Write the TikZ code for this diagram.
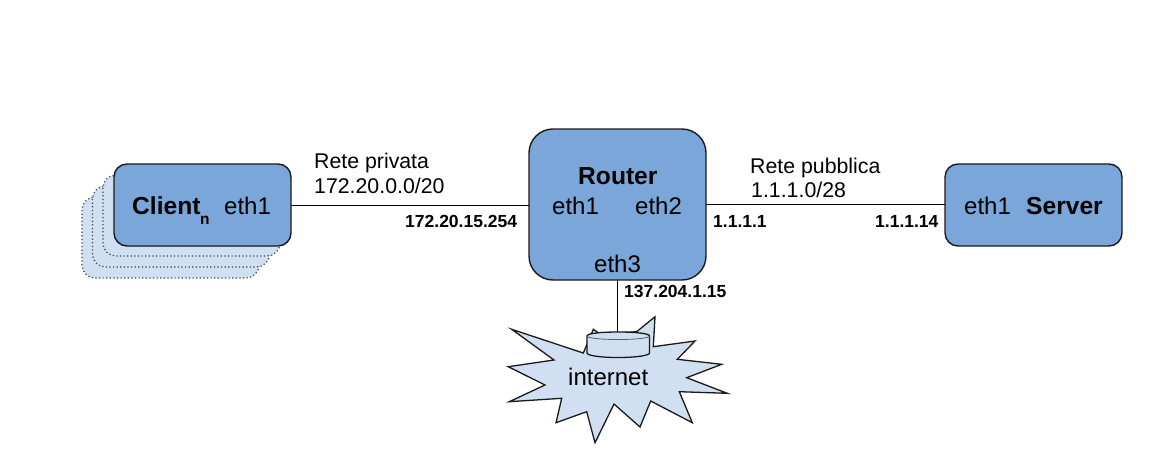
\documentclass[tikz,border=0pt]{standalone}
\usepackage{fontspec}
\setmainfont{Liberation Sans}
\usetikzlibrary{shapes.geometric}
\definecolor{boxblue}{HTML}{7BA6D9}
\definecolor{paleblue}{HTML}{D0E0F2}
\definecolor{inkline}{HTML}{1A1A1A}
\tikzset{
  box/.style={draw=inkline,line width=1.4pt,fill=boxblue,rounded corners=#1},
  box/.default=13pt,
  ghost/.style={draw=black!75,line width=1.2pt,dash pattern=on 1.2pt off 2.4pt,fill=paleblue,rounded corners=13pt},
  link/.style={draw=black,line width=1.4pt},
  big/.style={anchor=base west,inner sep=0pt,font=\fontsize{24}{26}\selectfont},
  bigb/.style={anchor=base west,inner sep=0pt,font=\fontsize{24.6}{26}\selectfont\bfseries},
  lab/.style={anchor=base west,inner sep=0pt,font=\fontsize{21.3}{24}\selectfont},
  addr/.style={anchor=base west,inner sep=0pt,font=\fontsize{17.5}{20}\selectfont\bfseries},
  blob/.style={draw=inkline,line width=1.3pt,fill=paleblue,line join=miter},
}
\begin{document}
\begin{tikzpicture}[x=1pt,y=-1pt]
\useasboundingbox (0,0) rectangle (1166,468);
% stacked clients
\path[ghost] (82,197) rectangle (259,278);
\path[ghost] (92.5,186) rectangle (269.5,267);
\path[ghost] (103,175) rectangle (280,256);
% main boxes
\path[box] (114,164) rectangle (291,246);
\path[box=24pt] (529,129) rectangle (706,280);
\path[box] (945,164) rectangle (1122,246);
\coordinate (client) at (291,205.5);
\coordinate (routerw) at (529,205.5);
\coordinate (routere) at (706,204.5);
\coordinate (server) at (945,204.5);
\coordinate (routers) at (617.5,280);
\coordinate (cyltop) at (617.5,332);
% connectors
\draw[link] (client) -- (routerw);
\draw[link] (routere) -- (server);
% internet burst
\path[blob] (511.7,329.3) -- (583.3,353) -- (593.3,329.3) -- (600,334) -- (636.7,331.7) -- (655,316.7)
 -- (653.3,346.7) -- (695,341) -- (677.3,359.3) -- (721.7,364.3) -- (686.7,377.7) -- (727.3,393.3)
 -- (679.3,391.7) -- (692.3,422.7) -- (650.7,401) -- (640,427) -- (614,404) -- (595,442.7)
 -- (586.7,411.7) -- (556,422.7) -- (561.7,398.3) -- (509.3,401.7) -- (545,385) -- (508.3,366.7)
 -- (554,360) -- cycle;
% cylinder
\path[draw=inkline,line width=1.3pt,fill=paleblue] (587,336) -- (587,353)
  .. controls (587,355.5) and (600,357.5) .. (618,357.5) .. controls (636,357.5) and (649.5,355.5) .. (649.5,353)
  -- (649.5,336) .. controls (649.5,333.5) and (636,332) .. (618,332) .. controls (600,332) and (587,333.5) .. (587,336) -- cycle;
\draw[draw=inkline!70,line width=0.8pt] (587,336) .. controls (587,338) and (600,339.5) .. (618,339.5) .. controls (636,339.5) and (649.5,338) .. (649.5,336);
\draw[link] (routers) -- (cyltop);
% text
\node[bigb] (tclient) at (132,214) {Client};
\node[anchor=base west,inner sep=0pt,font=\fontsize{15.5}{17}\selectfont\bfseries] (tn) at (200,224) {n};
\node[big] (e1) at (224,214) {eth1};
\node[bigb] (trouter) at (578,184) {Router};
\node[big] (r1) at (552,214) {eth1};
\node[big] (r2) at (635,214) {eth2};
\node[big] (r3) at (594,272) {eth3};
\node[big] (s1) at (964,214) {eth1};
\node[bigb] (tserver) at (1026,214) {Server};
\node[lab] (rp1) at (314,168) {Rete privata};
\node[lab] (rp2) at (314,193) {172.20.0.0/20};
\node[lab] (rq1) at (750,173) {Rete pubblica};
\node[lab] (rq2) at (751,197) {1.1.1.0/28};
\node[addr] (a1) at (405,227) {172.20.15.254};
\node[addr] (a2) at (713,227) {1.1.1.1};
\node[addr] (a3) at (875,227) {1.1.1.14};
\node[addr] (a4) at (624,297) {137.204.1.15};
\node[big] (inet) at (568,385) {internet};
\end{tikzpicture}
\end{document}
